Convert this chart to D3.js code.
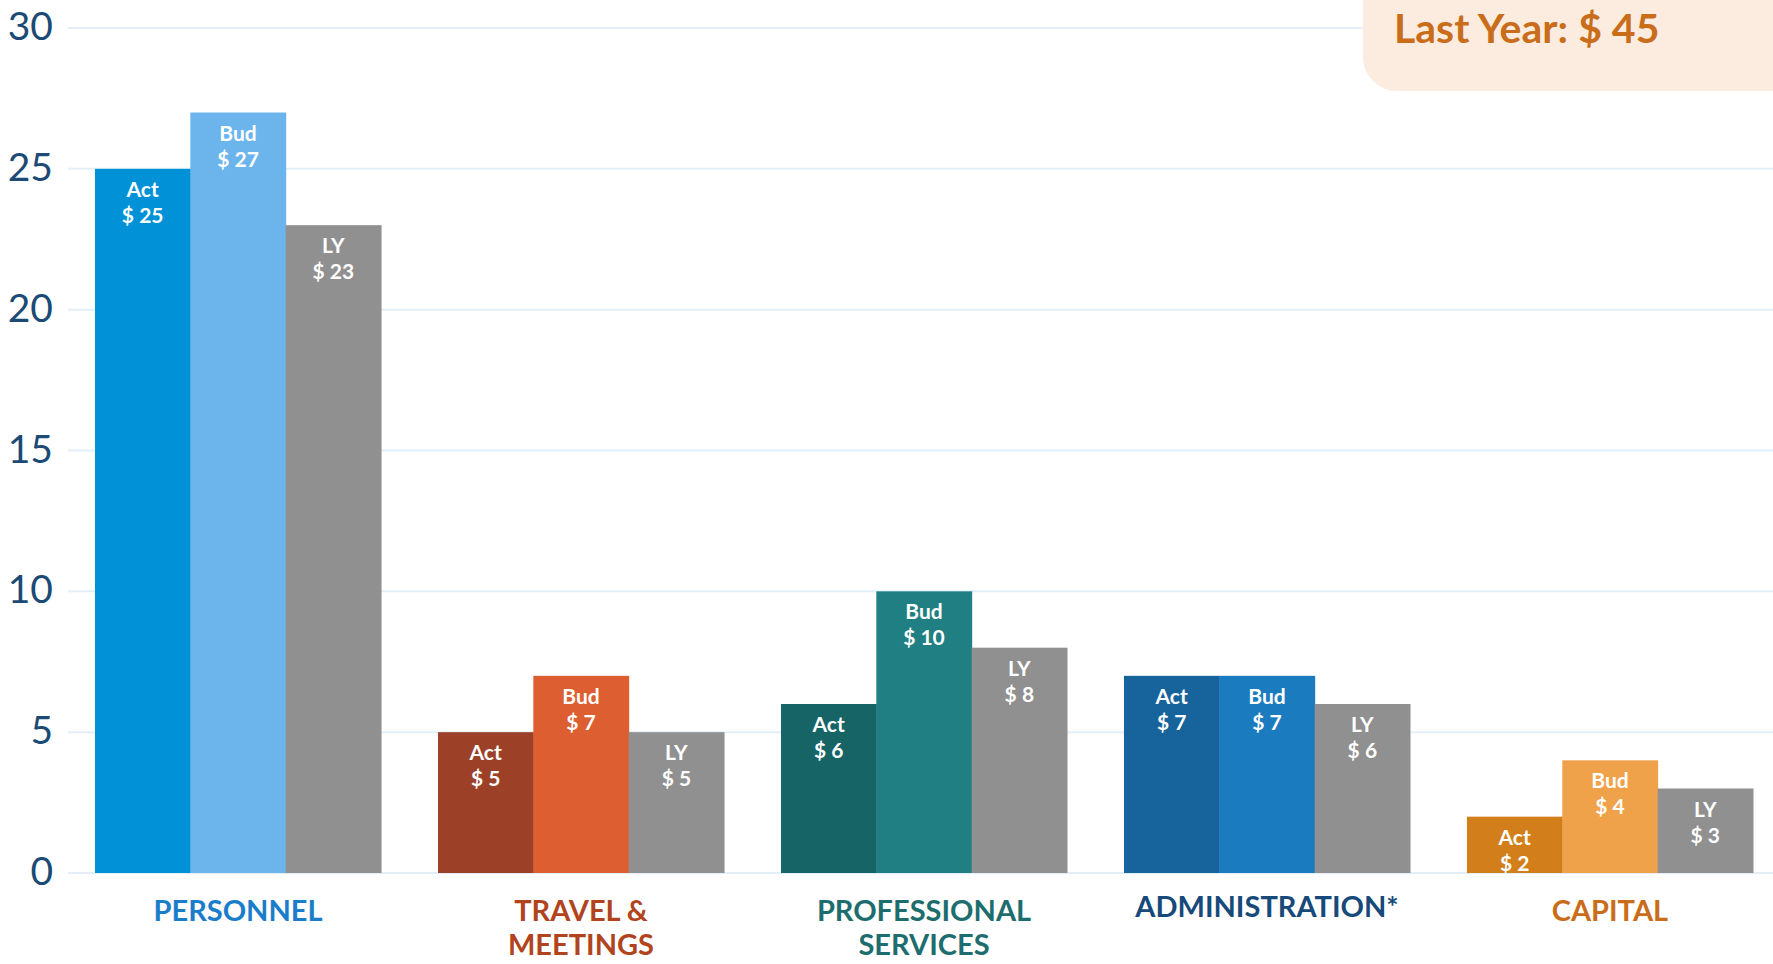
<!DOCTYPE html>
<html>
<head>
<meta charset="utf-8">
<script src="https://cdn.jsdelivr.net/npm/d3@7"></script>
<style>
  html, body { margin: 0; padding: 0; background: #ffffff; }
  svg { display: block; }
  text { font-family: "Source Sans Pro", "Lato", "Open Sans", sans-serif; }
</style>
</head>
<body>
<svg id="chart" width="1773" height="964"></svg>
<script>
// ---- Data ----
const categories = ["PERSONNEL", "TRAVEL & MEETINGS", "PROFESSIONAL SERVICES", "ADMINISTRATION*", "CAPITAL"];
const categoryLines = [["PERSONNEL"], ["TRAVEL &", "MEETINGS"], ["PROFESSIONAL", "SERVICES"], ["ADMINISTRATION*"], ["CAPITAL"]];
const seriesNames = ["Act", "Bud", "LY"];
const actualValues = [25, 5, 6, 7, 2];
const budgetValues = [27, 7, 10, 7, 4];
const lastYearValues = [23, 5, 8, 6, 3];
const yTicks = [0, 5, 10, 15, 20, 25, 30];

// ---- Styles ----
const categoryColors = ["#1a7dca", "#b1441d", "#1d6d6f", "#174a7a", "#c96d1a"];
const actColors = ["#0091d6", "#9c4128", "#176466", "#17639c", "#d27f1b"];
const budColors = ["#6cb5ec", "#dd5e30", "#1f7f82", "#1b7bbf", "#f0a24b"];
const lyColor = "#909090";

const svg = d3.select("#chart");
const W = 1773, H = 964;

const y = d3.scaleLinear().domain([0, 30]).range([873, 28]);
const x = d3.scaleBand().domain(categories).range([95, 1753]).paddingInner(0.166).paddingOuter(0);
const xs = d3.scaleBand().domain(seriesNames).range([0, x.bandwidth()]).padding(0);

// gridlines
svg.append("g").selectAll("line").data(yTicks).join("line")
  .attr("x1", 68).attr("x2", W)
  .attr("y1", d => y(d)).attr("y2", d => y(d))
  .attr("stroke", "#e2eff9").attr("stroke-width", 2);

// y tick labels
svg.append("g").selectAll("text").data(yTicks).join("text")
  .attr("x", 53).attr("y", d => y(d) - 3)
  .attr("text-anchor", "end").attr("dominant-baseline", "central")
  .attr("font-size", 39).attr("fill", "#1b4a75")
  .text(d => d);

// bars
const rows = categories.map((c, i) => ({
  cat: c, i,
  vals: [
    { s: "Act", v: actualValues[i], color: actColors[i] },
    { s: "Bud", v: budgetValues[i], color: budColors[i] },
    { s: "LY", v: lastYearValues[i], color: lyColor }
  ]
}));

const groups = svg.append("g").selectAll("g").data(rows).join("g")
  .attr("transform", d => `translate(${x(d.cat)},0)`);

groups.selectAll("rect").data(d => d.vals).join("rect")
  .attr("x", d => xs(d.s))
  .attr("y", d => y(d.v))
  .attr("width", xs.bandwidth() + 0.5)
  .attr("height", d => y(0) - y(d.v))
  .attr("fill", d => d.color);

groups.selectAll("text.s").data(d => d.vals).join("text")
  .attr("class", "s")
  .attr("x", d => xs(d.s) + xs.bandwidth() / 2)
  .attr("y", d => y(d.v) + 28)
  .attr("text-anchor", "middle").attr("font-size", 21).attr("font-weight", 700)
  .attr("fill", "#ffffff")
  .text(d => d.s);

groups.selectAll("text.v").data(d => d.vals).join("text")
  .attr("class", "v")
  .attr("x", d => xs(d.s) + xs.bandwidth() / 2)
  .attr("y", d => y(d.v) + 54)
  .attr("text-anchor", "middle").attr("font-size", 21).attr("font-weight", 700)
  .attr("fill", "#ffffff")
  .text(d => "$ " + d.v);

// category labels (one text element per line)
const labelLines = [];
rows.forEach(d => categoryLines[d.i].forEach((t, j) => labelLines.push({ cat: d.cat, i: d.i, j, t })));
svg.append("g").selectAll("text").data(labelLines).join("text")
  .attr("x", d => x(d.cat) + x.bandwidth() / 2)
  .attr("y", d => (d.cat === "ADMINISTRATION*" ? 917 : 921) + d.j * 34)
  .attr("text-anchor", "middle").attr("font-size", 29).attr("font-weight", 700)
  .attr("fill", d => categoryColors[d.i])
  .text(d => d.t);

// Last year box
const bx = 1363, by = 91, r = 34;
svg.append("path")
  .attr("d", `M${bx},-10 L${bx},${by - r} A${r},${r} 0 0 0 ${bx + r},${by} L${W},${by} L${W},-10 Z`)
  .attr("fill", "#fcecdf");
svg.append("text")
  .attr("x", 1394).attr("y", 43)
  .attr("font-size", 41).attr("font-weight", 700).attr("fill", "#c96d1b")
  .text("Last Year: $ " + d3.sum(lastYearValues));
</script>
</body>
</html>
